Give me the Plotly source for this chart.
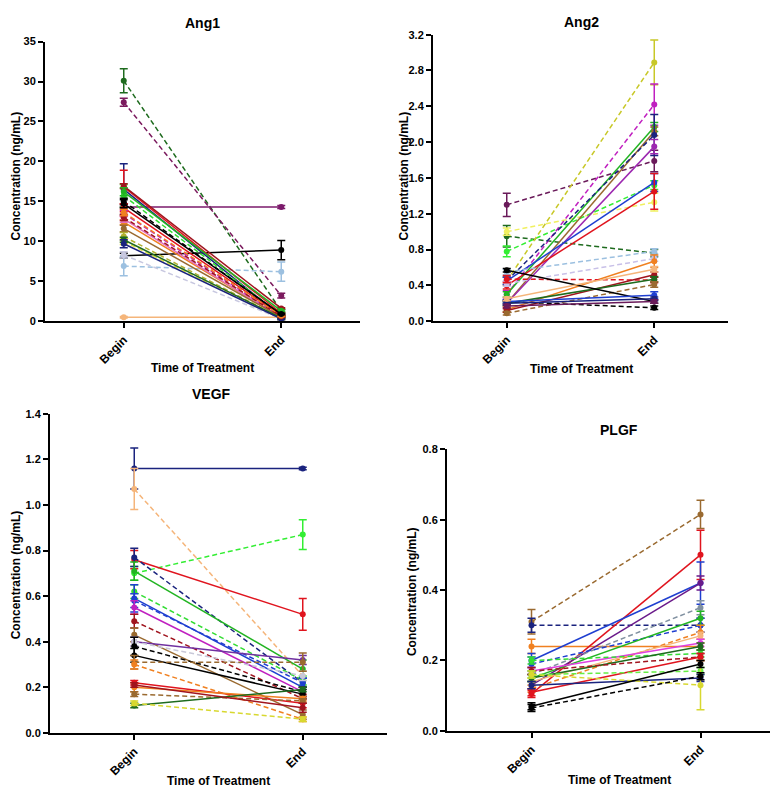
import plotly.graph_objects as go

# ---------------- data ----------------
TIMEPOINTS = ["Begin", "End"]

# Ang1 (ng/mL)
ANG1_BEGIN = [30.1, 27.4, 14.3, 8.2, 6.9, 0.5, 8.3, 16.5, 16.8, 15.7, 16.9, 16.2, 15.0, 14.2, 12.4, 13.5, 12.8, 11.6, 10.6, 10.0, 10.2, 9.7, 13.0, 13.6, 14.7]
ANG1_END = [1.3, 3.2, 14.3, 8.9, 6.2, 0.5, 0.3, 0.6, 1.0, 0.8, 1.6, 1.3, 0.8, 0.7, 0.5, 0.5, 0.4, 0.5, 0.4, 0.3, 0.4, 0.3, 0.6, 0.7, 0.9]
ANG1_BEGIN_ERR = [1.5, 0.5, 0.1, 0.3, 1.2, 0.1, 0.4, 3.2, 2.1, 1.4, 0.3, 0.5, 0.4, 0.5, 0.3, 0.4, 0.4, 0.4, 0.5, 0.4, 0.3, 0.5, 0.4, 0.4, 0.5]
ANG1_END_ERR = [0.2, 0.3, 0.2, 1.2, 1.2, 0.1, 0.1, 0.1, 0.1, 0.1, 0.1, 0.1, 0.1, 0.1, 0.1, 0.1, 0.1, 0.1, 0.1, 0.1, 0.1, 0.1, 0.1, 0.1, 0.1]
ANG1_COLORS = ["#1e6b1e", "#7b1a5e", "#7b1a6b", "#000000", "#9cc0e0", "#f5b57a", "#c8c8e0", "#1a237e", "#e0141e", "#33dd33", "#a0141e", "#22b422", "#000000", "#e0141e", "#f08020", "#c020c0", "#e070c0", "#9a6a30", "#b0b030", "#e0e040", "#1e6b1e", "#1a237e", "#a0141e", "#f08020", "#000000"]
ANG1_DASH = ["dash", "dash", "solid", "solid", "dash", "solid", "dash", "solid", "solid", "dash", "solid", "solid", "dash", "solid", "solid", "dash", "solid", "solid", "dash", "dash", "solid", "solid", "dash", "dash", "solid"]

# Ang2 (ng/mL)
ANG2_BEGIN = [1.30, 0.95, 1.00, 0.78, 0.45, 0.30, 0.30, 0.20, 0.45, 0.20, 0.45, 0.40, 0.55, 0.42, 0.13, 0.47, 0.12, 0.20, 0.09, 0.57, 0.22, 0.22, 0.20, 0.17, 0.25]
ANG2_END = [1.79, 0.76, 1.33, 1.52, 2.89, 2.42, 2.17, 2.12, 2.08, 1.95, 1.55, 1.45, 0.78, 0.70, 0.67, 0.46, 0.52, 0.47, 0.41, 0.22, 0.15, 0.29, 0.25, 0.22, 0.58]
ANG2_BEGIN_ERR = [0.13, 0.12, 0.04, 0.06, 0.05, 0.04, 0.03, 0.03, 0.04, 0.03, 0.04, 0.04, 0.03, 0.03, 0.03, 0.04, 0.02, 0.02, 0.02, 0.02, 0.02, 0.02, 0.02, 0.02, 0.02]
ANG2_END_ERR = [0.12, 0.04, 0.10, 0.05, 0.25, 0.23, 0.05, 0.05, 0.23, 0.08, 0.10, 0.20, 0.03, 0.03, 0.07, 0.03, 0.03, 0.03, 0.03, 0.02, 0.02, 0.04, 0.02, 0.02, 0.03]
ANG2_COLORS = ["#6a1a5a", "#1e6b1e", "#f0f060", "#33ee33", "#c8c828", "#c020c0", "#22b422", "#9a6a30", "#1a237e", "#9c27b0", "#1f3fd0", "#e0141e", "#9cc0e0", "#c8c0e8", "#f08020", "#e0141e", "#a0141e", "#1e6b1e", "#9a6a30", "#000000", "#000000", "#1f3fd0", "#1a237e", "#6a1a5a", "#f5b57a"]
ANG2_DASH = ["dash", "dash", "dash", "dash", "dash", "dash", "solid", "solid", "dash", "solid", "solid", "solid", "dash", "dash", "solid", "dash", "solid", "solid", "dash", "solid", "dash", "solid", "solid", "solid", "solid"]

# VEGF (ng/mL)
VEGF_BEGIN = [1.16, 1.07, 0.70, 0.76, 0.77, 0.71, 0.62, 0.59, 0.58, 0.55, 0.49, 0.43, 0.40, 0.40, 0.38, 0.34, 0.31, 0.30, 0.22, 0.20, 0.17, 0.12, 0.13, 0.21]
VEGF_END = [1.16, 0.25, 0.87, 0.52, 0.22, 0.28, 0.23, 0.20, 0.22, 0.18, 0.15, 0.08, 0.32, 0.25, 0.18, 0.17, 0.31, 0.06, 0.13, 0.15, 0.14, 0.19, 0.06, 0.11]
VEGF_BEGIN_ERR = [0.09, 0.09, 0.03, 0.04, 0.04, 0.04, 0.03, 0.06, 0.03, 0.03, 0.03, 0.03, 0.02, 0.02, 0.04, 0.03, 0.03, 0.02, 0.01, 0.02, 0.01, 0.01, 0.01, 0.01]
VEGF_END_ERR = [0.005, 0.02, 0.065, 0.07, 0.02, 0.04, 0.02, 0.04, 0.02, 0.02, 0.02, 0.02, 0.02, 0.02, 0.02, 0.02, 0.04, 0.01, 0.02, 0.01, 0.01, 0.01, 0.01, 0.02]
VEGF_COLORS = ["#1a237e", "#f5b57a", "#33ee33", "#e0141e", "#1a237e", "#22b422", "#33dd33", "#1f3fd0", "#1f3fd0", "#c020c0", "#a0141e", "#9a6a30", "#7030a0", "#c8c8d8", "#000000", "#000000", "#9a6a30", "#f08020", "#e0141e", "#f08020", "#9a6a30", "#1e6b1e", "#d8d830", "#a0141e"]
VEGF_DASH = ["solid", "dash", "dash", "solid", "dash", "solid", "dash", "solid", "dash", "solid", "dash", "solid", "solid", "dash", "dash", "solid", "dash", "dash", "solid", "solid", "dash", "solid", "dash", "solid"]

# PLGF (ng/mL)
PLGF_BEGIN = [0.31, 0.30, 0.24, 0.105, 0.20, 0.13, 0.16, 0.19, 0.15, 0.12, 0.14, 0.17, 0.20, 0.15, 0.17, 0.11, 0.16, 0.13, 0.16, 0.07, 0.065]
PLGF_END = [0.615, 0.30, 0.24, 0.50, 0.42, 0.42, 0.35, 0.30, 0.32, 0.28, 0.27, 0.25, 0.22, 0.24, 0.21, 0.21, 0.17, 0.15, 0.13, 0.19, 0.155]
PLGF_BEGIN_ERR = [0.035, 0.02, 0.02, 0.01, 0.02, 0.01, 0.02, 0.02, 0.01, 0.01, 0.01, 0.01, 0.01, 0.01, 0.01, 0.01, 0.01, 0.01, 0.01, 0.01, 0.01]
PLGF_END_ERR = [0.04, 0.02, 0.01, 0.07, 0.06, 0.02, 0.02, 0.02, 0.02, 0.02, 0.01, 0.01, 0.01, 0.01, 0.01, 0.01, 0.01, 0.01, 0.07, 0.01, 0.01]
PLGF_COLORS = ["#9a6a30", "#1a237e", "#f08020", "#e0141e", "#1f3fd0", "#6a1a8a", "#8090a0", "#1f3fd0", "#22b422", "#f08020", "#f5b57a", "#e040e0", "#33dd33", "#1e6b1e", "#a0141e", "#e0141e", "#66ee44", "#1a237e", "#d8d830", "#000000", "#000000"]
PLGF_DASH = ["dash", "dash", "solid", "solid", "solid", "solid", "dash", "dash", "solid", "dash", "solid", "solid", "dash", "solid", "dash", "solid", "dash", "solid", "dash", "solid", "dash"]

PANELS = [
    ("Ang1", ANG1_BEGIN, ANG1_END, ANG1_BEGIN_ERR, ANG1_END_ERR, ANG1_COLORS, ANG1_DASH),
    ("Ang2", ANG2_BEGIN, ANG2_END, ANG2_BEGIN_ERR, ANG2_END_ERR, ANG2_COLORS, ANG2_DASH),
    ("VEGF", VEGF_BEGIN, VEGF_END, VEGF_BEGIN_ERR, VEGF_END_ERR, VEGF_COLORS, VEGF_DASH),
    ("PLGF", PLGF_BEGIN, PLGF_END, PLGF_BEGIN_ERR, PLGF_END_ERR, PLGF_COLORS, PLGF_DASH),
]

# ---------------- layout geometry (pixels) ----------------
W, H = 778, 787
# (x_left, x_right, y_bottom, y_top, ymax, dtick, tickformat)
GEOM = [
    (37, 352, 312, 28, 35, 5, "d"),
    (425, 720, 312, 21, 3.2, 0.4, ".1f"),
    (42, 379, 730, 406, 1.4, 0.2, ".1f"),
    (439, 777, 728, 442, 0.8, 0.2, ".1f"),
]
TITLE_POS = [(195, 9), (573, 8), (203, 386), (611, 422)]
XTITLE_POS = [(195, 359), (573, 360), (210, 779), (611, 778)]
YTITLE_POS = [(8, 165), (396, 165), (8, 570), (404, 587)]

FONT = "Liberation Sans, Arial, sans-serif"
DASH_PATTERN = {"dash": "5px,3px", "solid": "solid"}

fig = go.Figure()
layout = dict(
    width=W, height=H,
    margin=dict(l=0, r=0, t=0, b=0),
    paper_bgcolor="white", plot_bgcolor="white",
    showlegend=False,
    font=dict(family=FONT, color="black"),
    annotations=[],
)

for i, (name, b, e, be, ee, cols, dashes) in enumerate(PANELS):
    ax = "" if i == 0 else str(i + 1)
    for j in range(len(b)):
        fig.add_trace(go.Scatter(
            x=TIMEPOINTS, y=[b[j], e[j]],
            xaxis="x" + ax, yaxis="y" + ax,
            mode="lines+markers",
            line=dict(color=cols[j], width=1.5, dash=DASH_PATTERN[dashes[j]]),
            marker=dict(color=cols[j], size=6, symbol="circle"),
            error_y=dict(type="data", array=[be[j], ee[j]], color=cols[j], thickness=1.5, width=4),
            hoverinfo="skip",
        ))
    xl, xr, yb, yt, ymax, dt, tf = GEOM[i]
    layout["xaxis" + ax] = dict(
        domain=[xl / W, xr / W], anchor="y" + ax,
        type="category", range=[-0.5, 1.5],
        showline=True, linecolor="black", linewidth=2,
        ticks="outside", ticklen=5, tickwidth=2, tickcolor="black",
        tickangle=-45, tickfont=dict(size=12, family=FONT, weight="bold"),
        showgrid=False, zeroline=False, fixedrange=True,
    )
    layout["yaxis" + ax] = dict(
        domain=[1 - yb / H, 1 - yt / H], anchor="x" + ax,
        range=[0, ymax], dtick=dt, tick0=0, tickformat=tf,
        showline=True, linecolor="black", linewidth=2,
        ticks="outside", ticklen=5, tickwidth=2, tickcolor="black",
        tickfont=dict(size=11, family=FONT, weight="bold"),
        showgrid=False, zeroline=False, fixedrange=True,
    )
    tx, ty = TITLE_POS[i]
    layout["annotations"].append(dict(
        text="<b>%s</b>" % name, x=tx / W, y=1 - ty / H, xref="paper", yref="paper",
        showarrow=False, xanchor="center", yanchor="middle",
        font=dict(size=14, family=FONT)))
    xx, xy = XTITLE_POS[i]
    layout["annotations"].append(dict(
        text="<b>Time of Treatment</b>", x=xx / W, y=1 - xy / H, xref="paper", yref="paper",
        showarrow=False, xanchor="center", yanchor="middle",
        font=dict(size=12, family=FONT)))
    yx, yy = YTITLE_POS[i]
    layout["annotations"].append(dict(
        text="<b>Concentration (ng/mL)</b>", x=yx / W, y=1 - yy / H, xref="paper", yref="paper",
        showarrow=False, xanchor="center", yanchor="middle", textangle=-90,
        font=dict(size=12, family=FONT)))

fig.update_layout(**layout)
fig.write_html("out.html")
